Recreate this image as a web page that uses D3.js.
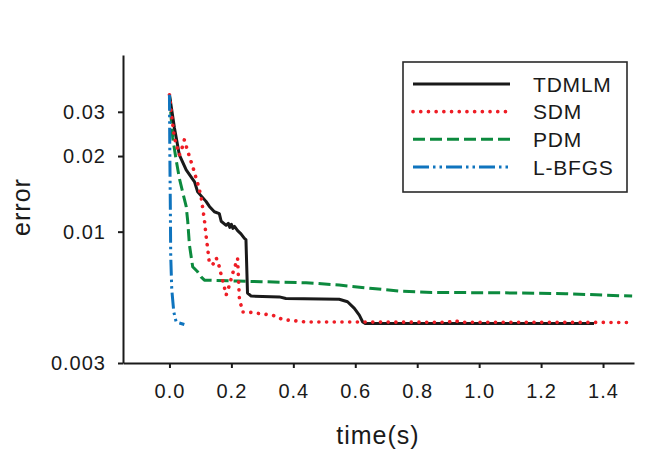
<!DOCTYPE html>
<html>
<head>
<meta charset="utf-8">
<script src="https://cdn.jsdelivr.net/npm/d3@7"></script>
<style>
  body { margin: 0; background: #fff; }
  text { font-family: "Liberation Sans", Arial, sans-serif; fill: #1a1a1a; }
</style>
</head>
<body>
<svg id="chart" width="664" height="455"></svg>
<script>
// series: [time (s), error]
const tdmlm = [
    [0, 0.0351], [0.016, 0.0259], [0.032, 0.0202], [0.054, 0.0176], [0.081, 0.0158],
    [0.091, 0.0144], [0.118, 0.0132], [0.129, 0.0126], [0.145, 0.012], [0.161, 0.0118],
    [0.167, 0.011], [0.183, 0.0106], [0.19, 0.0108], [0.195, 0.0104], [0.2, 0.0107],
    [0.205, 0.0103], [0.21, 0.0105], [0.22, 0.0101], [0.231, 0.0098], [0.242, 0.0094],
    [0.247, 0.0093], [0.252, 0.0057], [0.264, 0.00554], [0.355, 0.0055], [0.376, 0.00542],
    [0.548, 0.00538], [0.575, 0.00526], [0.597, 0.00495], [0.613, 0.00465], [0.624, 0.00437],
    [0.632, 0.00431], [1.371, 0.00431]
];
const sdm = [
    [0, 0.0351], [0.0055, 0.03], [0.016, 0.0236], [0.032, 0.0202], [0.041, 0.0216],
    [0.048, 0.0232], [0.059, 0.0209], [0.068, 0.0193], [0.075, 0.0182], [0.083, 0.0168],
    [0.091, 0.0156], [0.102, 0.0138], [0.113, 0.0111], [0.118, 0.0097], [0.124, 0.00845],
    [0.129, 0.00748], [0.14, 0.0074], [0.151, 0.00787], [0.161, 0.00725], [0.167, 0.00672],
    [0.177, 0.00603], [0.183, 0.00559], [0.195, 0.0062], [0.204, 0.00682], [0.215, 0.00748],
    [0.22, 0.00783], [0.226, 0.00534], [0.231, 0.0051], [0.236, 0.00479], [0.264, 0.00477],
    [0.29, 0.00472], [0.333, 0.00465], [0.365, 0.00447], [0.441, 0.00437], [0.9, 0.00436],
    [0.919, 0.00443], [0.94, 0.00436], [1.494, 0.00435]
];
const pdm = [
    [0, 0.0351], [0.0055, 0.0284], [0.0106, 0.0236], [0.0216, 0.0193], [0.032, 0.0163],
    [0.048, 0.0135], [0.054, 0.0126], [0.059, 0.011], [0.0645, 0.00885], [0.075, 0.00725],
    [0.091, 0.00692], [0.102, 0.00661], [0.113, 0.00641], [0.22, 0.00636], [0.296, 0.00632],
    [0.441, 0.00626], [0.548, 0.00613], [0.656, 0.00594], [0.742, 0.0058], [0.848, 0.00573],
    [1.065, 0.00571], [1.28, 0.00566], [1.494, 0.00554]
];
const lbfgs = [
    [0, 0.0351], [0.001, 0.022], [0.003, 0.012], [0.004, 0.0081], [0.0074, 0.0059],
    [0.0139, 0.0048], [0.0216, 0.00437], [0.048, 0.00427]
];

const seriesNames = ["TDMLM", "SDM", "PDM", "L-BFGS"];
const xTicks = [0, 0.2, 0.4, 0.6, 0.8, 1.0, 1.2, 1.4];
const yTicks = [0.003, 0.01, 0.02, 0.03];
const yTickLabels = ["0.003", "0.01", "0.02", "0.03"];

const styles = [
    { color: "#1a1a1a", width: 3, dash: null, cap: "butt" },
    { color: "#ee1d25", width: 3.6, dash: "0.1 7.6", cap: "round" },
    { color: "#0c8a3e", width: 3, dash: "12 5", cap: "butt" },
    { color: "#0f74be", width: 3, dash: "16 4 2.5 4 2.5 4", cap: "butt" }
];
const allSeries = [tdmlm, sdm, pdm, lbfgs];

const svg = d3.select("#chart");

const x = d3.scaleLinear().domain([-0.15, 1.5]).range([123, 634]);
const y = d3.scaleLog().domain([0.003, 0.0505]).range([363, 55]);

// x axis
const xAxis = svg.append("g")
    .attr("transform", "translate(0,363)")
    .call(d3.axisBottom(x).tickValues(xTicks).tickFormat(d3.format(".1f")).tickSize(5).tickSizeOuter(0).tickPadding(16));
xAxis.select(".domain").attr("stroke", "#1a1a1a").attr("stroke-width", 2);
xAxis.selectAll(".tick line").attr("stroke", "#1a1a1a").attr("stroke-width", 2);
xAxis.selectAll(".tick text")
    .attr("fill", "#1a1a1a")
    .style("font-size", "20px")
    .style("letter-spacing", "1px")
    .style("font-family", "'Liberation Sans', Arial, sans-serif");

// y axis
const yAxis = svg.append("g")
    .attr("transform", "translate(123,0)")
    .call(d3.axisLeft(y).tickValues(yTicks).tickFormat((d, i) => yTickLabels[i]).tickSize(5).tickSizeOuter(0).tickPadding(12));
yAxis.select(".domain").attr("stroke", "#1a1a1a").attr("stroke-width", 2);
yAxis.selectAll(".tick line").attr("stroke", "#1a1a1a").attr("stroke-width", 2);
yAxis.selectAll(".tick text")
    .attr("fill", "#1a1a1a")
    .style("font-size", "20px")
    .style("letter-spacing", "1px")
    .style("font-family", "'Liberation Sans', Arial, sans-serif");

// axis titles
svg.append("text")
    .attr("x", 378)
    .attr("y", 444)
    .attr("text-anchor", "middle")
    .style("font-size", "25px")
    .style("letter-spacing", "1px")
    .text("time(s)");

svg.append("text")
    .attr("transform", "translate(30,207) rotate(-90)")
    .attr("text-anchor", "middle")
    .style("font-size", "25px")
    .style("letter-spacing", "1px")
    .text("error");

// curves
const line = d3.line()
    .x((d) => x(d[0]))
    .y((d) => y(d[1]));

// draw back to front so TDMLM sits under the dotted SDM like the original
const drawOrder = [2, 0, 1, 3];
drawOrder.forEach((i) => {
    const s = styles[i];
    svg.append("path")
        .datum(allSeries[i])
        .attr("d", line)
        .attr("fill", "none")
        .attr("stroke", s.color)
        .attr("stroke-width", s.width)
        .attr("stroke-linecap", s.cap)
        .attr("stroke-linejoin", "round")
        .attr("stroke-dasharray", s.dash);
});

// legend
const legend = svg.append("g");
legend.append("rect")
    .attr("x", 403)
    .attr("y", 62)
    .attr("width", 224)
    .attr("height", 130)
    .attr("fill", "#fff")
    .attr("stroke", "#2a2a2a")
    .attr("stroke-width", 1.6);

const rowY = d3.scalePoint().domain(seriesNames).range([84, 167]);
seriesNames.forEach((name, i) => {
    const s = styles[i];
    legend.append("line")
        .attr("x1", 413)
        .attr("x2", 510)
        .attr("y1", rowY(name))
        .attr("y2", rowY(name))
        .attr("stroke", s.color)
        .attr("stroke-width", s.width)
        .attr("stroke-linecap", s.cap)
        .attr("stroke-dasharray", s.dash);
    legend.append("text")
        .attr("x", 533)
        .attr("y", rowY(name))
        .attr("dy", "0.36em")
        .style("font-size", "21px")
        .style("letter-spacing", "0.8px")
        .text(name);
});
</script>
</body>
</html>
